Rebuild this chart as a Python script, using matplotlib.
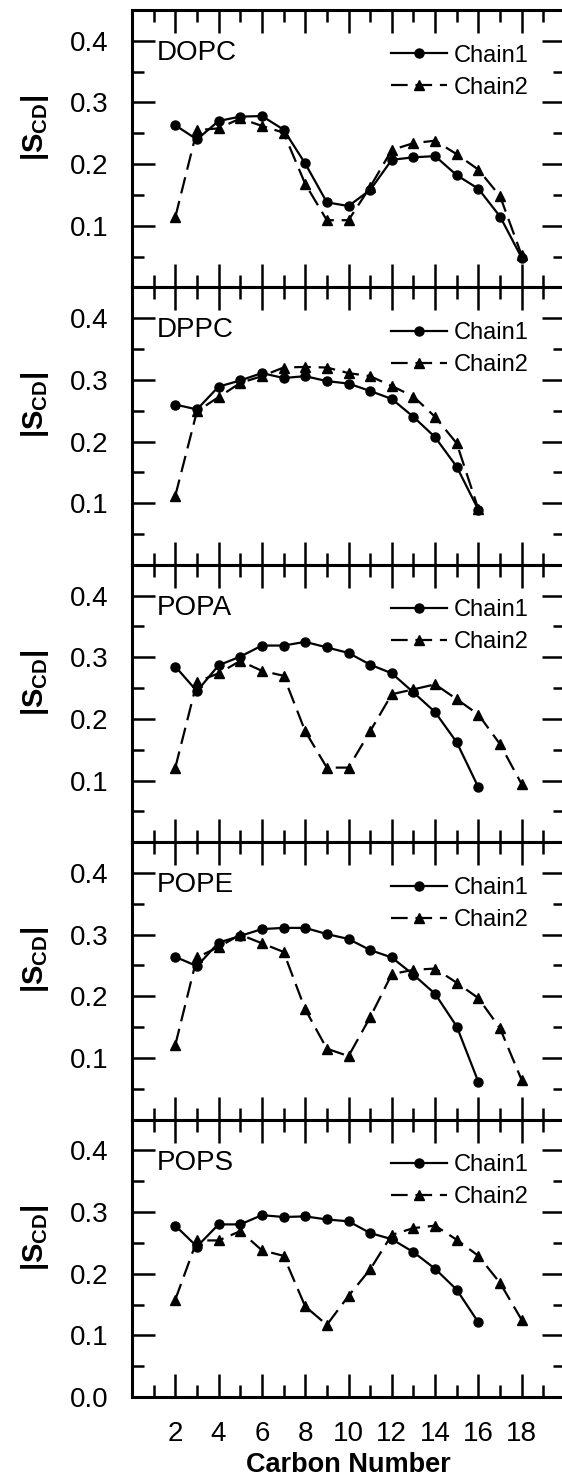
import matplotlib
matplotlib.use("Agg")
import matplotlib.pyplot as plt
import numpy as np

plt.rcParams['font.family'] = ['Liberation Sans', 'DejaVu Sans']
plt.rcParams['mathtext.fontset'] = 'custom'
plt.rcParams['mathtext.rm'] = 'Liberation Sans'
plt.rcParams['mathtext.bf'] = 'Liberation Sans:bold'
plt.rcParams['mathtext.it'] = 'Liberation Sans:italic'

lipids = ["DOPC", "DPPC", "POPA", "POPE", "POPS"]

chain1_x = {
    "DOPC": list(range(2, 19)),
    "DPPC": list(range(2, 17)),
    "POPA": list(range(2, 17)),
    "POPE": list(range(2, 17)),
    "POPS": list(range(2, 17)),
}
chain2_x = {
    "DOPC": list(range(2, 19)),
    "DPPC": list(range(2, 17)),
    "POPA": list(range(2, 19)),
    "POPE": list(range(2, 19)),
    "POPS": list(range(2, 19)),
}

dopc_chain1 = [0.263, 0.240, 0.270, 0.277, 0.278, 0.256, 0.201, 0.138, 0.132,
               0.158, 0.207, 0.211, 0.213, 0.182, 0.160, 0.115, 0.048]
dopc_chain2 = [0.114, 0.255, 0.258, 0.274, 0.262, 0.251, 0.168, 0.109, 0.109,
               0.163, 0.223, 0.234, 0.238, 0.216, 0.191, 0.148, 0.052]
dppc_chain1 = [0.260, 0.252, 0.289, 0.299, 0.311, 0.303, 0.306, 0.298, 0.294,
               0.282, 0.269, 0.240, 0.207, 0.159, 0.089]
dppc_chain2 = [0.112, 0.249, 0.272, 0.295, 0.306, 0.320, 0.321, 0.320, 0.311,
               0.306, 0.290, 0.273, 0.240, 0.197, 0.090]
popa_chain1 = [0.285, 0.245, 0.287, 0.301, 0.319, 0.319, 0.325, 0.316, 0.307,
               0.288, 0.274, 0.243, 0.211, 0.162, 0.089]
popa_chain2 = [0.121, 0.260, 0.274, 0.294, 0.278, 0.270, 0.180, 0.121, 0.121,
               0.180, 0.240, 0.248, 0.256, 0.232, 0.207, 0.159, 0.094]
pope_chain1 = [0.264, 0.249, 0.287, 0.298, 0.309, 0.311, 0.311, 0.301, 0.293,
               0.275, 0.263, 0.235, 0.204, 0.151, 0.061]
pope_chain2 = [0.121, 0.263, 0.280, 0.300, 0.286, 0.272, 0.179, 0.115, 0.103,
               0.166, 0.236, 0.243, 0.245, 0.222, 0.197, 0.148, 0.064]
pops_chain1 = [0.278, 0.244, 0.280, 0.280, 0.295, 0.292, 0.293, 0.288, 0.285,
               0.266, 0.256, 0.235, 0.208, 0.174, 0.121]
pops_chain2 = [0.158, 0.254, 0.254, 0.269, 0.238, 0.229, 0.147, 0.117, 0.164,
               0.207, 0.263, 0.274, 0.278, 0.255, 0.229, 0.185, 0.125]

chain1 = {"DOPC": dopc_chain1, "DPPC": dppc_chain1, "POPA": popa_chain1,
          "POPE": pope_chain1, "POPS": pops_chain1}
chain2 = {"DOPC": dopc_chain2, "DPPC": dppc_chain2, "POPA": popa_chain2,
          "POPE": pope_chain2, "POPS": pops_chain2}

x_major = [2, 4, 6, 8, 10, 12, 14, 16, 18]
x_minor = [1, 3, 5, 7, 9, 11, 13, 15, 17, 19]
y_major_top = [0.1, 0.2, 0.3, 0.4]
y_major_bottom = [0.0, 0.1, 0.2, 0.3, 0.4]
y_minor = [0.05, 0.15, 0.25, 0.35]

W, H = 562, 1479
fig = plt.figure(figsize=(W / 100, H / 100), dpi=100)

left_px, right_px = 132, 565
top_px, bottom_px = 10, 1397
panel_h = (bottom_px - top_px) / 5

for i, name in enumerate(lipids):
    y0 = top_px + i * panel_h
    ax = fig.add_axes([left_px / W, 1 - (y0 + panel_h) / H,
                       (right_px - left_px) / W, panel_h / H])
    ax.plot(chain1_x[name], chain1[name], color='black', lw=1.6,
            marker='o', ms=6.5, label='Chain1')
    ax.plot(chain2_x[name], chain2[name], color='black', lw=1.6,
            marker='^', ms=7.5, dashes=(7.5, 3.5), label='Chain2')
    ax.set_xlim(0, 20)
    ax.set_ylim(0, 0.45)
    ax.set_xticks(x_major)
    ax.set_xticks(x_minor, minor=True)
    yt = y_major_bottom if i == 4 else y_major_top
    ax.set_yticks(yt)
    ax.set_yticks(y_minor, minor=True)
    ax.set_yticklabels([f"{v:.1f}" for v in yt])
    ax.tick_params(which='both', direction='in', top=True, right=True,
                   width=1.8, labelsize=20, pad=17)
    ax.tick_params(which='major', length=16.5)
    ax.tick_params(which='minor', length=8.5)
    if i < 4:
        ax.tick_params(axis='x', labelbottom=False)
    else:
        ax.set_xlabel("Carbon Number", fontsize=19.5, fontweight='bold', labelpad=4)
    for s in ax.spines.values():
        s.set_linewidth(2.2)
    ax.set_ylabel(r'$\mathbf{|S_{CD}|}$', fontsize=21)
    ax.yaxis.set_label_coords(-0.225, 0.575)
    ax.yaxis.label.set_va('center')
    ax.text(0.058, 0.845, name, transform=ax.transAxes, fontsize=20,
            ha='left', va='center')
    ax.legend(loc='upper right', bbox_to_anchor=(0.915, 0.875),
              frameon=False, fontsize=17, handlelength=2.4,
              handletextpad=0.25, labelspacing=0.42, borderpad=0,
              borderaxespad=0)

fig.savefig("out.png", dpi=100)
